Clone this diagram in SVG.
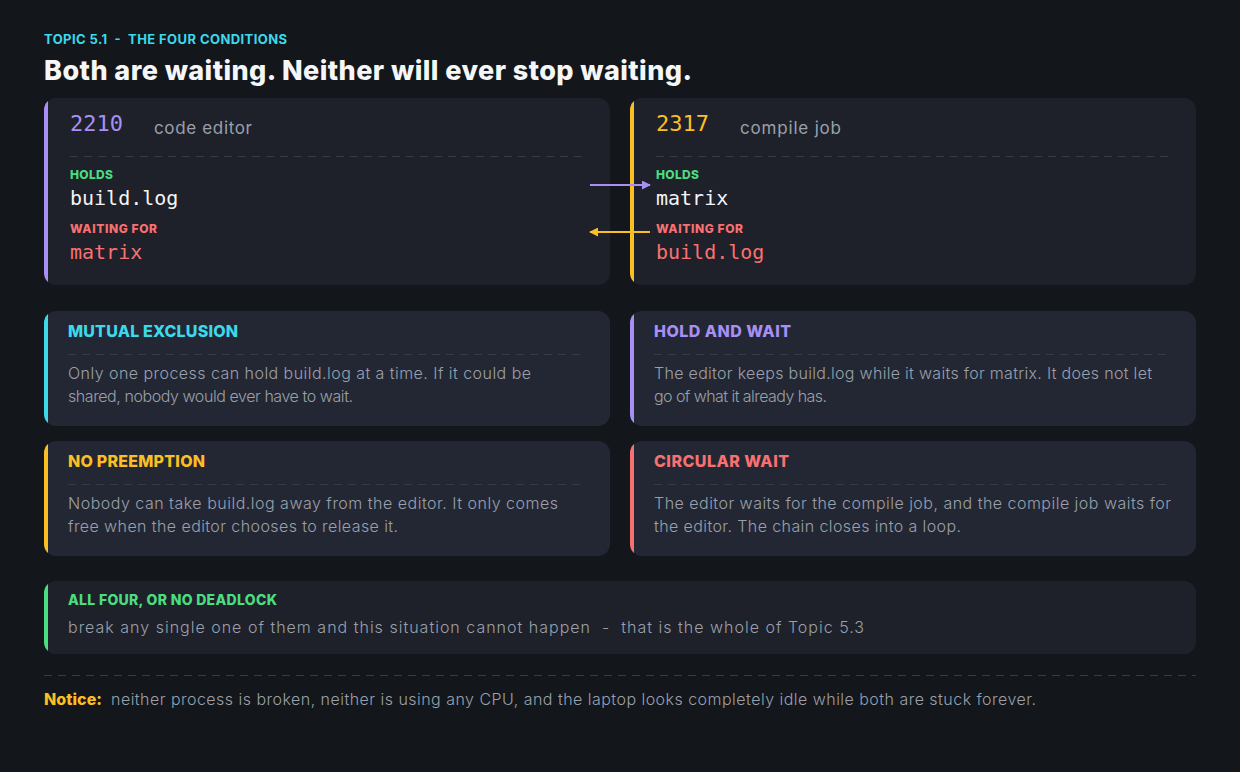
<svg xmlns="http://www.w3.org/2000/svg" width="1240" height="772" viewBox="0 0 1240 772">
<style>
.bg{fill:#13161b}
.card{fill:#1e212a}
.cond{fill:#232733}
.dash{stroke:#363b47;stroke-width:1.2;stroke-dasharray:8 6;fill:none}
.sans{font-family:Inter,"Open Sans","Liberation Sans",sans-serif}
.mono{font-family:"DejaVu Sans Mono","Liberation Mono",monospace}
.kicker{font-size:13px;font-weight:700;fill:#3dd9eb}
.title{font-size:27px;font-weight:800;fill:#f5f6f8}
.pid{font-size:22px}
.pname{font-size:17px;fill:#9aa0ab;font-weight:400}
.lbl{font-size:12px;font-weight:800}
.res{font-size:20px}
.ctitle{font-size:16px;font-weight:800}
.body{font-size:16px;font-weight:300;fill:#9aa0ab}
</style>
<defs>
<clipPath id="cA"><rect x="44" y="98" width="566" height="187" rx="12"/></clipPath>
<clipPath id="cB"><rect x="630" y="98" width="566" height="187" rx="12"/></clipPath>
<clipPath id="c1"><rect x="44" y="311" width="566" height="115" rx="12"/></clipPath>
<clipPath id="c2"><rect x="630" y="311" width="566" height="115" rx="12"/></clipPath>
<clipPath id="c3"><rect x="44" y="441" width="566" height="115" rx="12"/></clipPath>
<clipPath id="c4"><rect x="630" y="441" width="566" height="115" rx="12"/></clipPath>
<clipPath id="c5"><rect x="44" y="581" width="1152" height="73" rx="12"/></clipPath>
<marker id="ahP" viewBox="0 0 10 10" refX="9" refY="5" markerWidth="9" markerHeight="9" markerUnits="userSpaceOnUse" orient="auto"><path d="M0,0 L10,5 L0,10 z" fill="#a88ff5"/></marker>
<marker id="ahY" viewBox="0 0 10 10" refX="9" refY="5" markerWidth="9" markerHeight="9" markerUnits="userSpaceOnUse" orient="auto"><path d="M0,0 L10,5 L0,10 z" fill="#fbbf24"/></marker>
</defs>
<rect class="bg" x="0" y="0" width="1240" height="772"/>

<text class="sans kicker" x="44" y="44" textLength="243" xml:space="preserve">TOPIC 5.1  -  THE FOUR CONDITIONS</text>
<text class="sans title" x="44" y="80" textLength="648">Both are waiting. Neither will ever stop waiting.</text>

<g id="proc-2210">
<g clip-path="url(#cA)"><rect class="card" x="44" y="98" width="566" height="187"/><rect x="44" y="98" width="4" height="187" fill="#a88ff5"/></g>
<text class="mono pid" x="70" y="131" fill="#a88ff5">2210</text>
<text class="sans pname" x="154" y="134" textLength="98">code editor</text>
<line class="dash" x1="70" y1="156.5" x2="582" y2="156.5"/>
<text class="sans lbl" x="70" y="179" fill="#4ade80" textLength="43">HOLDS</text>
<text class="mono res" x="70" y="205" fill="#f3f4f6">build.log</text>
<text class="sans lbl" x="70" y="233" fill="#f87171" textLength="87">WAITING FOR</text>
<text class="mono res" x="70" y="259" fill="#f87171">matrix</text>
</g>

<g id="proc-2317">
<g clip-path="url(#cB)"><rect class="card" x="630" y="98" width="566" height="187"/><rect x="630" y="98" width="4" height="187" fill="#fbbf24"/></g>
<text class="mono pid" x="656" y="131" fill="#fbbf24">2317</text>
<text class="sans pname" x="740" y="134" textLength="101">compile job</text>
<line class="dash" x1="656" y1="156.5" x2="1168" y2="156.5"/>
<text class="sans lbl" x="656" y="179" fill="#4ade80" textLength="43">HOLDS</text>
<text class="mono res" x="656" y="205" fill="#f3f4f6">matrix</text>
<text class="sans lbl" x="656" y="233" fill="#f87171" textLength="87">WAITING FOR</text>
<text class="mono res" x="656" y="259" fill="#f87171">build.log</text>
</g>

<g id="cond-mutual">
<g clip-path="url(#c1)"><rect class="cond" x="44" y="311" width="566" height="115"/><rect x="44" y="311" width="4" height="115" fill="#3dd9eb"/></g>
<text class="sans ctitle" x="68" y="337" fill="#3dd9eb" textLength="170">MUTUAL EXCLUSION</text>
<line class="dash" x1="68" y1="354.5" x2="582" y2="354.5"/>
<text class="sans body" x="68" y="379" textLength="463">Only one process can hold build.log at a time. If it could be</text>
<text class="sans body" x="68" y="402" textLength="285">shared, nobody would ever have to wait.</text>
</g>

<g id="cond-hold">
<g clip-path="url(#c2)"><rect class="cond" x="630" y="311" width="566" height="115"/><rect x="630" y="311" width="4" height="115" fill="#a88ff5"/></g>
<text class="sans ctitle" x="654" y="337" fill="#a88ff5" textLength="137">HOLD AND WAIT</text>
<line class="dash" x1="654" y1="354.5" x2="1168" y2="354.5"/>
<text class="sans body" x="654" y="379" textLength="498">The editor keeps build.log while it waits for matrix. It does not let</text>
<text class="sans body" x="654" y="402" textLength="173">go of what it already has.</text>
</g>

<g id="cond-preempt">
<g clip-path="url(#c3)"><rect class="cond" x="44" y="441" width="566" height="115"/><rect x="44" y="441" width="4" height="115" fill="#fbbf24"/></g>
<text class="sans ctitle" x="68" y="467" fill="#fbbf24" textLength="137">NO PREEMPTION</text>
<line class="dash" x1="68" y1="484.5" x2="582" y2="484.5"/>
<text class="sans body" x="68" y="509" textLength="490">Nobody can take build.log away from the editor. It only comes</text>
<text class="sans body" x="68" y="532" textLength="330">free when the editor chooses to release it.</text>
</g>

<g id="cond-circular">
<g clip-path="url(#c4)"><rect class="cond" x="630" y="441" width="566" height="115"/><rect x="630" y="441" width="4" height="115" fill="#f87171"/></g>
<text class="sans ctitle" x="654" y="467" fill="#f87171" textLength="135">CIRCULAR WAIT</text>
<line class="dash" x1="654" y1="484.5" x2="1168" y2="484.5"/>
<text class="sans body" x="654" y="509" textLength="517">The editor waits for the compile job, and the compile job waits for</text>
<text class="sans body" x="654" y="532" textLength="307">the editor. The chain closes into a loop.</text>
</g>

<g id="all-four">
<g clip-path="url(#c5)"><rect class="card" x="44" y="581" width="1152" height="73"/><rect x="44" y="581" width="4" height="73" fill="#4ade80"/></g>
<text class="sans" x="68" y="605" fill="#4ade80" font-size="14" font-weight="800" textLength="209">ALL FOUR, OR NO DEADLOCK</text>
<text class="sans body" x="68" y="633" textLength="796" xml:space="preserve">break any single one of them and this situation cannot happen  -  that is the whole of Topic 5.3</text>
</g>

<line class="dash" x1="44" y1="675.5" x2="1196" y2="675.5"/>
<text class="sans" x="44" y="705" fill="#fbbf24" font-size="16" font-weight="800" textLength="58">Notice:</text>
<text class="sans body" x="111" y="705" textLength="925">neither process is broken, neither is using any CPU, and the laptop looks completely idle while both are stuck forever.</text>

<g id="connectors">
<line x1="590" y1="185" x2="650" y2="185" stroke="#a88ff5" stroke-width="2" marker-end="url(#ahP)"/>
<line x1="650" y1="232" x2="590" y2="232" stroke="#fbbf24" stroke-width="2" marker-end="url(#ahY)"/>
</g>
</svg>
